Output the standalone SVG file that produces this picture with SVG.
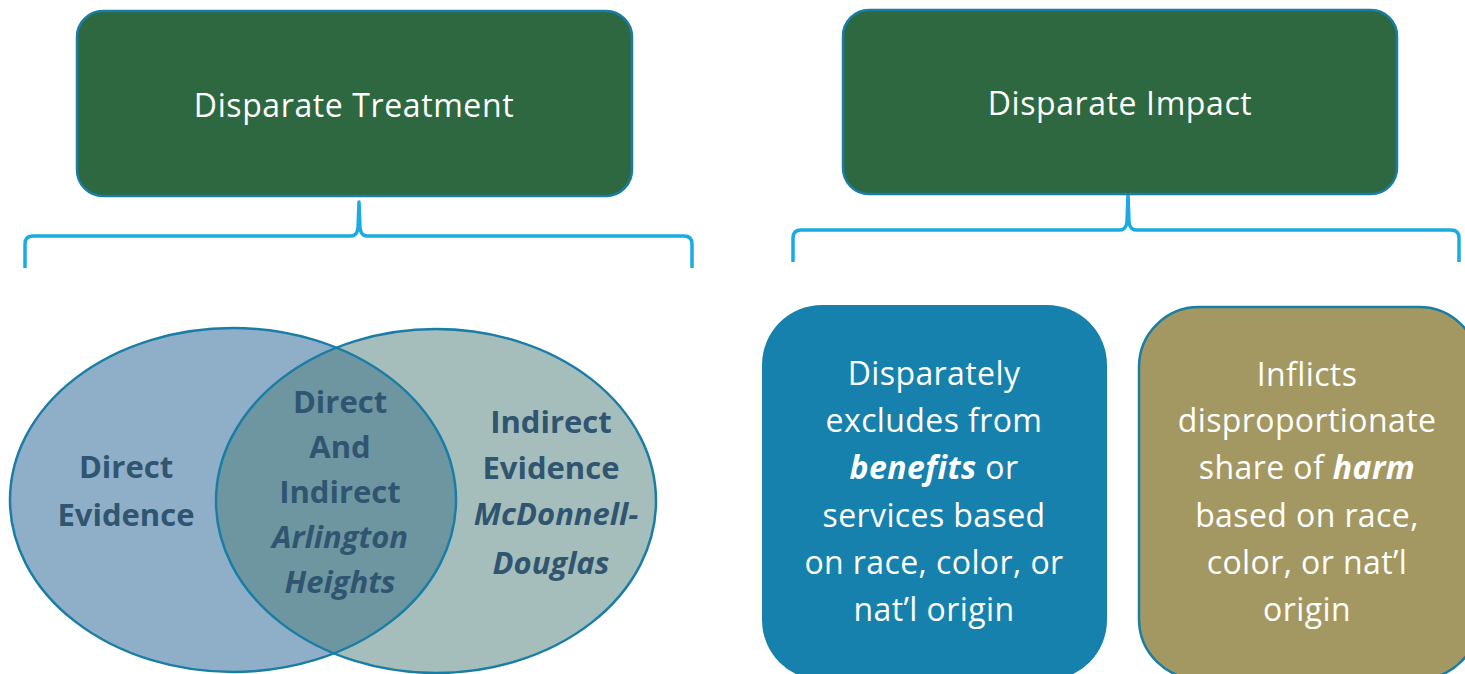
<svg xmlns="http://www.w3.org/2000/svg" width="1465" height="674" viewBox="0 0 1465 674">
<style>
.hdr{fill:#2E6840;stroke:#1A7DA5;stroke-width:2.5}
.ht{font-family:"Open Sans","Noto Sans",sans-serif;font-size:32px;letter-spacing:0.6px;fill:#fff;text-anchor:middle}
.brace{fill:none;stroke:#1AABE2;stroke-width:3.5;stroke-linejoin:round}
.vt{font-family:"Open Sans","Noto Sans",sans-serif;font-size:31px;font-weight:bold;fill:#2F5570;text-anchor:middle}
.it{font-style:italic}
.bt{font-family:"Open Sans","Noto Sans",sans-serif;font-size:32px;letter-spacing:0.4px;fill:#fff;text-anchor:middle}
.ring{fill:none;stroke:#1A7DA5;stroke-width:2.5}
</style>
<defs>
<clipPath id="clipR"><ellipse cx="436" cy="501" rx="220" ry="172"/></clipPath>
</defs>
<g id="connectors">
<path class="brace" d="M25 268 L25 244 Q25 236 33 236 L351 236 Q357 236 358 228 L359 202 L360 228 Q361 236 367 236 L684 236 Q692 236 692 244 L692 268"/>
<path class="brace" d="M793 262 L793 238 Q793 230 801 230 L1120 230 Q1126 230 1127 222 L1128 195 L1129 222 Q1130 230 1136 230 L1451 230 Q1459 230 1459 238 L1459 262"/>
</g>
<g id="disparate-treatment">
<rect class="hdr" x="77" y="11" width="555" height="185" rx="26"/>
<text class="ht" x="354" y="117">Disparate Treatment</text>
</g>
<g id="disparate-impact">
<rect class="hdr" x="843" y="10" width="554" height="184" rx="26"/>
<text class="ht" x="1120" y="115">Disparate Impact</text>
</g>
<g id="venn">
<ellipse cx="233" cy="500" rx="223" ry="172" fill="#8FAFC9"/>
<ellipse cx="436" cy="501" rx="220" ry="172" fill="#A6BEBB"/>
<ellipse cx="233" cy="500" rx="223" ry="172" fill="#6D96A0" clip-path="url(#clipR)"/>
<ellipse class="ring" cx="233" cy="500" rx="223" ry="172"/>
<ellipse class="ring" cx="436" cy="501" rx="220" ry="172"/>
</g>
<g id="direct-evidence">
<text class="vt" x="126" y="478">Direct</text>
<text class="vt" x="126" y="526">Evidence</text>
</g>
<g id="direct-and-indirect">
<text class="vt" x="340" y="413">Direct</text>
<text class="vt" x="340" y="458">And</text>
<text class="vt" x="340" y="503">Indirect</text>
<text class="vt it" x="340" y="548">Arlington</text>
<text class="vt it" x="340" y="593">Heights</text>
</g>
<g id="indirect-evidence">
<text class="vt" x="551" y="433">Indirect</text>
<text class="vt" x="551" y="479">Evidence</text>
<text class="vt it" x="556" y="525">McDonnell-</text>
<text class="vt it" x="551" y="574">Douglas</text>
</g>
<g id="benefits-box">
<rect x="762" y="305" width="345" height="375" rx="60" fill="#1781AD"/>
<text class="bt" x="934" y="385">Disparately</text>
<text class="bt" x="934" y="432">excludes from</text>
<text class="bt" x="934" y="479"><tspan font-weight="bold" font-style="italic">benefits</tspan> or</text>
<text class="bt" x="934" y="527">services based</text>
<text class="bt" x="934" y="574">on race, color, or</text>
<text class="bt" x="934" y="621">nat’l origin</text>
</g>
<g id="harm-box">
<rect x="1139" y="307" width="340" height="372" rx="60" fill="#A49862" stroke="#1A7DA5" stroke-width="2.5"/>
<text class="bt" x="1307" y="386">Inflicts</text>
<text class="bt" x="1307" y="432">disproportionate</text>
<text class="bt" x="1307" y="479">share of <tspan font-weight="bold" font-style="italic">harm</tspan></text>
<text class="bt" x="1307" y="527">based on race,</text>
<text class="bt" x="1307" y="574">color, or nat’l</text>
<text class="bt" x="1307" y="621">origin</text>
</g>
</svg>
